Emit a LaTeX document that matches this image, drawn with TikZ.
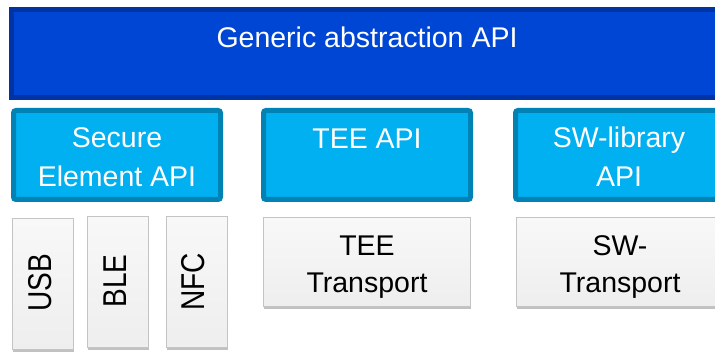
\documentclass[tikz,border=0pt]{standalone}
\usepackage{graphicx}
\usepackage{fontspec}
\setmainfont{Liberation Sans}
\usetikzlibrary{shadows}
\definecolor{topfill}{HTML}{0046D5}
\definecolor{topline}{HTML}{0034A4}
\definecolor{apifill}{HTML}{00B0F0}
\definecolor{apiline}{HTML}{0082B4}
\definecolor{trtop}{HTML}{F8F8F8}
\definecolor{trfill}{HTML}{EEEEEE}
\definecolor{trline}{HTML}{C4C4C4}
\begin{document}
\begin{tikzpicture}[x=1pt,y=-1pt,
  topbox/.style={draw=topline, fill=topfill, line width=5pt, inner sep=0pt, outer sep=0pt},
  apibox/.style={draw=apiline, fill=apifill, line width=5pt, rounded corners=2.5pt, inner sep=0pt, outer sep=0pt, minimum height=89pt},
  trbox/.style={draw=trline, line width=1.2pt, top color=trtop, bottom color=trfill, inner sep=0pt, outer sep=0pt,
    drop shadow={shadow xshift=0.6pt, shadow yshift=-2.5pt, opacity=0.35, fill=black!70}},
  wtxt/.style={text=white, font=\fontsize{28.5}{39}\selectfont, inner sep=0pt, anchor=base},
  btxt/.style={text=black, font=\fontsize{28.5}{39}\selectfont, inner sep=0pt, anchor=base},
  rtxt/.style={text=black, font=\fontsize{33}{39}\selectfont, inner sep=0pt, anchor=center, rotate=90}
]
\useasboundingbox (0,0) rectangle (715,352);
\clip (0,0) rectangle (715,352);
% top layer
\node[topbox, minimum width=728pt, minimum height=88pt] (gen) at (375.5,53.5) {};
\node[wtxt] (gent) at (367,48) {Generic abstraction API};
% API layer
\node[apibox, minimum width=207pt] (se) at (117,155) {};
\node[apibox, minimum width=207pt] (tee) at (367,155) {};
\node[apibox, minimum width=209pt] (sw) at (620,155) {};
\node[wtxt] (set1) at (117,148) {Secure};
\node[wtxt] (set2) at (117,187) {Element API};
\node[wtxt] (teet) at (367,149) {TEE API};
\node[wtxt] (swt1) at (619,148) {SW-library};
\node[wtxt] (swt2) at (619,187) {API};
% transport layer
\node[trbox, minimum width=61pt, minimum height=131pt] (usb) at (43,284) {};
\node[trbox, minimum width=61pt, minimum height=131pt] (ble) at (118,282) {};
\node[trbox, minimum width=61pt, minimum height=131pt] (nfc) at (197,282) {};
\node[trbox, minimum width=207pt, minimum height=89pt] (teetr) at (367,262) {};
\node[trbox, minimum width=207pt, minimum height=89pt] (swtr) at (620,262) {};
\node[rtxt] (usbt) at (40,283) {\scalebox{0.85}[1]{USB}};
\node[rtxt] (blet) at (115,281) {\scalebox{0.85}[1]{BLE}};
\node[rtxt] (nfct) at (193,282) {\scalebox{0.85}[1]{NFC}};
\node[btxt] (teetr1) at (367,256) {TEE};
\node[btxt] (teetr2) at (367,293) {Transport};
\node[btxt] (swtr1) at (620,256) {SW-};
\node[btxt] (swtr2) at (620,293) {Transport};
\end{tikzpicture}
\end{document}
